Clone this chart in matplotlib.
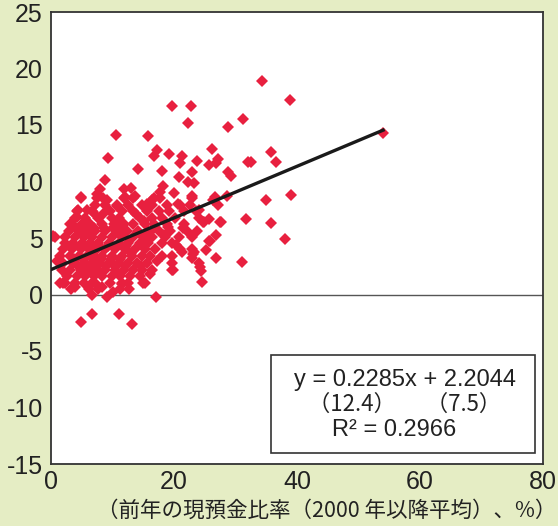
import matplotlib.pyplot as plt

plt.rcParams['font.family'] = ['Liberation Sans', 'Noto Sans CJK JP', 'DejaVu Sans']
plt.rcParams['axes.unicode_minus'] = False

# scatter points (x: cash ratio %, y: value)
x_pts = [
    # outliers / sparse area
    34.3, 19.7, 22.7, 22.2, 31.3, 28.8, 10.6, 15.8, 9.2, 17.3, 16.7, 19.2, 21.3, 26.2,
    27.2, 26.9, 25.7, 23.7, 21.0, 22.9, 18.0, 14.1, 20.8, 28.7, 29.3, 22.2, 23.3, 32.1,
    32.5, 35.8, 36.6, 35.0, 31.7, 35.8, 8.7, 8.0, 4.8, 0.3, 7.4, 11.8, 13.0, 38.9,
    39.0, 54.0, 38.0, 31.0, 26.8, 27.6, 26.8, 25.2, 25.7, 24.7, 25.7, 24.2, 22.9, 23.3,
    27.2, 26.7, 19.8, 24.4, 24.6, 6.7, 9.1, 17.1, 6.7, 11.1, 4.9, 13.2, 10.1, 12.7,
    11.5, 3.9, 2.0, 19.7, 15.0, 16.1, 8.3, 7.2, 25.9, 23.1, 21.3, 21.4, 27.5, 24.9,
    24.0, 26.3, 28.6, 23.0, 20.0, 18.2, 17.7, 16.4, 15.6, 13.7, 12.1, 10.7, 9.1, 5.9,
    4.4, 4.2, 6.9, 8.5, 1.5, 1.0,
    # dense core, row by row
    4.8, 7.5, 8.5, 11.8, 13.4, 16.7, 17.8, 22.9,
    7.2, 8.8, 10.7, 12.6, 14.8, 16.4, 18.9, 21.0, 22.6,
    4.2, 6.7, 9.6, 11.5, 13.4, 15.6, 17.5, 19.2, 21.6, 23.5,
    3.9, 5.6, 7.7, 9.9, 11.0, 14.5, 16.4, 18.1, 20.2, 24.0,
    3.1, 5.0, 6.4, 8.3, 10.2, 11.8, 13.4, 15.3, 16.7, 18.9, 21.6,
    2.9, 4.5, 5.9, 7.2, 8.8, 10.7, 12.4, 14.2, 15.8, 17.5, 19.4, 22.1, 23.7,
    0.6, 2.3, 3.9, 5.3, 6.7, 8.3, 9.9, 11.5, 13.4, 15.0, 16.4, 18.6, 20.8, 22.9,
    2.3, 3.6, 5.0, 6.4, 7.7, 9.4, 11.0, 12.6, 14.5, 15.8, 18.1, 19.7,
    2.0, 3.4, 4.8, 6.1, 7.5, 8.8, 10.4, 12.1, 13.7, 15.3, 16.9, 21.0, 22.9,
    1.5, 3.1, 4.5, 5.9, 7.0, 8.3, 9.9, 11.5, 13.2, 14.8, 16.1, 18.1, 19.7,
    2.0, 3.6, 5.3, 6.7, 8.0, 9.4, 11.0, 12.6, 14.0, 15.6, 19.7, 24.0,
    1.8, 3.1, 4.8, 6.1, 7.5, 8.8, 10.4, 11.8, 13.4, 14.8, 16.4,
    2.6, 4.2, 5.6, 7.0, 8.3, 9.9, 11.2, 12.8, 14.5,
    2.3, 3.9, 5.3, 6.7, 9.6, 11.5, 12.6, 15.3,
    3.2, 6.2, 7.6, 11.2,
    # extra in the thickest part
    4.0, 5.5, 7.0, 8.6, 10.0, 11.4, 3.2, 4.7, 6.2, 7.8, 9.2, 10.8, 12.2,
    3.8, 5.2, 6.8, 8.2, 9.8, 11.2, 4.4, 6.0, 7.4, 9.0, 10.4, 12.0,
    13.9, 15.1, 16.8, 18.3, 20.4, 13.0, 14.7, 17.2, 19.0, 20.6,
]
y_pts = [
    18.9, 16.7, 16.7, 15.2, 15.5, 14.8, 14.1, 14.0, 12.1, 12.8, 12.3, 12.4, 12.3, 12.9,
    12.0, 11.6, 11.5, 11.8, 11.6, 10.8, 10.9, 11.1, 10.4, 10.8, 10.5, 10.0, 9.9, 11.7,
    11.7, 12.6, 11.7, 8.4, 6.7, 6.3, 10.1, 9.3, 8.6, 5.2, 8.9, 9.3, 9.4, 17.2,
    8.8, 14.3, 4.9, 2.9, 3.2, 6.4, 5.3, 3.9, 4.7, 6.4, 6.7, 2.4, 3.2, 3.8,
    7.9, 8.6, 2.2, 2.1, 1.1, 0.0, -0.2, -0.2, -1.7, -1.7, -2.4, -2.6, 0.2, 0.5,
    0.9, 0.7, 1.0, 2.2, 1.0, 1.8, 0.7, 1.0, 4.7, 3.6, 3.8, 5.9, 6.4, 6.4,
    7.5, 8.4, 8.7, 8.7, 9.0, 9.6, 9.1, 8.4, 8.0, 8.7, 8.6, 7.8, 8.4, 7.5,
    7.5, 6.9, 7.3, 7.1, 1.0, 3.0,
    8.5, 8.5, 8.5, 8.5, 8.5, 8.5, 8.5, 8.5,
    7.9, 7.9, 7.9, 7.9, 7.9, 7.9, 7.9, 7.9, 7.9,
    7.4, 7.4, 7.4, 7.4, 7.4, 7.4, 7.4, 7.4, 7.4, 7.4,
    6.8, 6.8, 6.8, 6.8, 6.8, 6.8, 6.8, 6.8, 6.8, 6.8,
    6.2, 6.2, 6.2, 6.2, 6.2, 6.2, 6.2, 6.2, 6.2, 6.2, 6.2,
    5.6, 5.6, 5.6, 5.6, 5.6, 5.6, 5.6, 5.6, 5.6, 5.6, 5.6, 5.6, 5.6,
    5.1, 5.1, 5.1, 5.1, 5.1, 5.1, 5.1, 5.1, 5.1, 5.1, 5.1, 5.1, 5.1, 5.1,
    4.6, 4.6, 4.6, 4.6, 4.6, 4.6, 4.6, 4.6, 4.6, 4.6, 4.6, 4.6,
    4.0, 4.0, 4.0, 4.0, 4.0, 4.0, 4.0, 4.0, 4.0, 4.0, 4.0, 4.0, 4.0,
    3.4, 3.4, 3.4, 3.4, 3.4, 3.4, 3.4, 3.4, 3.4, 3.4, 3.4, 3.4, 3.4,
    2.8, 2.8, 2.8, 2.8, 2.8, 2.8, 2.8, 2.8, 2.8, 2.8, 2.8, 2.8,
    2.2, 2.2, 2.2, 2.2, 2.2, 2.2, 2.2, 2.2, 2.2, 2.2, 2.2,
    1.6, 1.6, 1.6, 1.6, 1.6, 1.6, 1.6, 1.6, 1.6,
    1.0, 1.0, 1.0, 1.0, 1.0, 1.0, 1.0, 1.0,
    0.5, 0.5, 0.5, 0.5,
    5.9, 5.9, 5.9, 5.9, 5.9, 5.9, 4.3, 4.3, 4.3, 4.3, 4.3, 4.3, 4.3,
    3.1, 3.1, 3.1, 3.1, 3.1, 3.1, 2.5, 2.5, 2.5, 2.5, 2.5, 2.5,
    7.1, 6.5, 5.9, 5.3, 4.4, 3.7, 2.5, 3.0, 6.0, 8.0,
]

slope = 0.2285
intercept = 2.2044
fit_x = [0.0, 54.0]

x_ticks = [0, 20, 40, 60, 80]
y_ticks = [-15, -10, -5, 0, 5, 10, 15, 20, 25]
xlabel = '（前年の現預金比率（2000 年以降平均）、%）'
eq_lines = ['y = 0.2285x + 2.2044', '（12.4）      （7.5）', 'R² = 0.2966']

bg = '#E5EDC4'
red = '#E8203F'

fig = plt.figure(figsize=(5.58, 5.26), dpi=100, facecolor=bg)
ax = fig.add_axes([51 / 558, 1 - 464 / 526, 492 / 558, 452 / 526])
ax.set_facecolor('white')

ax.plot(x_pts, y_pts, 'D', color=red, markersize=6.2, markeredgewidth=0, zorder=2)
ax.plot(fit_x, [slope * v + intercept for v in fit_x], color='#1a1a1a', lw=2.4, zorder=3)
ax.axhline(0, color='#555555', lw=1, zorder=1)

ax.set_xlim(0, 80)
ax.set_ylim(-15, 25)
ax.set_xticks(x_ticks)
ax.set_yticks(y_ticks)
ax.tick_params(length=0, labelsize=18, colors='#222222', pad=6)
ax.tick_params(axis='x', pad=4)
for s in ax.spines.values():
    s.set_color('#333333')
    s.set_linewidth(1.3)

fig.text(556 / 558, 1 - 511 / 526, xlabel, ha='right', va='center', fontsize=15.5,
         color='#222222', family=['Noto Sans CJK JP', 'DejaVu Sans'])

# equation box
box = plt.Rectangle((271 / 558, 1 - 453 / 526), 264 / 558, 98 / 526, transform=fig.transFigure,
                    facecolor='white', edgecolor='#333333', lw=1.2, zorder=5)
fig.patches.append(box)
fig.text(405 / 558, 1 - 380 / 526, eq_lines[0], ha='center', va='center', fontsize=17, color='#222222', zorder=6)
fig.text(405 / 558, 1 - 404 / 526, eq_lines[1], ha='center', va='center', fontsize=16, color='#222222',
         family=['Noto Sans CJK JP', 'DejaVu Sans'], zorder=6)
fig.text(332 / 558, 1 - 430 / 526, eq_lines[2], ha='left', va='center', fontsize=17, color='#222222', zorder=6)

fig.savefig('out.png', dpi=100, facecolor=bg)
